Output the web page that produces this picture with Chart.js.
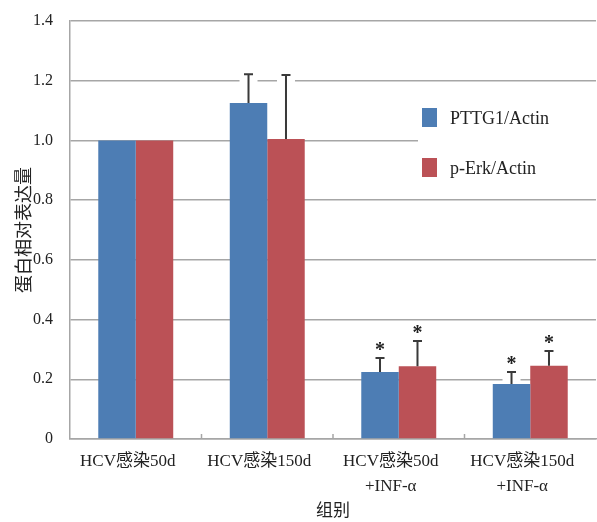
<!DOCTYPE html>
<html>
<head>
<meta charset="utf-8">
<script src="https://cdn.jsdelivr.net/npm/chart.js@4"></script>
<style>
  body { margin: 0; background: #fff; }
</style>
</head>
<body>
<canvas id="chart" width="597" height="522"></canvas>
<script>
// data
const groups = [['HCV感染50d'], ['HCV感染150d'], ['HCV感染50d', '+INF-α'], ['HCV感染150d', '+INF-α']];
const seriesNames = ['PTTG1/Actin', 'p-Erk/Actin'];
const pttg1 = [1.0, 1.125, 0.224, 0.184];
const perk = [1.0, 1.005, 0.244, 0.245];
const pttg1Err = [0, 0.097, 0.047, 0.040];
const perkErr = [0, 0.214, 0.084, 0.050];
const pttg1Star = [false, false, true, true];
const perkStar = [false, false, true, true];
const yTicks = [0, 0.2, 0.4, 0.6, 0.8, 1.0, 1.2, 1.4];

const serif = '"Liberation Serif", "Times New Roman", "Noto Sans CJK SC", serif';
const gray = '#a6a6a6';

// error bars, stars, little ticks and the legend box
const extras = {
  id: 'extras',
  afterDatasetsDraw(chart) {
    const ctx = chart.ctx;
    const x = chart.scales.x, y = chart.scales.y;
    const area = chart.chartArea;
    const errs = [pttg1Err, perkErr];
    const stars = [pttg1Star, perkStar];

    ctx.save();
    // tick marks between groups
    ctx.strokeStyle = gray;
    ctx.lineWidth = 1.5;
    for (let i = 1; i < groups.length; i++) {
      const px = (x.getPixelForValue(i - 1) + x.getPixelForValue(i)) / 2;
      ctx.beginPath();
      ctx.moveTo(px, area.bottom);
      ctx.lineTo(px, area.bottom - 5);
      ctx.stroke();
    }

    chart.data.datasets.forEach((ds, d) => {
      const meta = chart.getDatasetMeta(d);
      meta.data.forEach((bar, i) => {
        const err = errs[d][i];
        const top = y.getPixelForValue(ds.data[i] + err);
        if (err > 0) {
          const base = y.getPixelForValue(ds.data[i]);
          // white halo like the original
          ctx.fillStyle = '#fff';
          ctx.fillRect(bar.x - 9, top - 2, 18, base - top + 1);
          ctx.strokeStyle = '#3a3a3a';
          ctx.lineWidth = 2;
          ctx.beginPath();
          ctx.moveTo(bar.x, base);
          ctx.lineTo(bar.x, top);
          ctx.moveTo(bar.x - 4.5, top);
          ctx.lineTo(bar.x + 4.5, top);
          ctx.stroke();
        }
        if (stars[d][i]) {
          ctx.fillStyle = '#222';
          ctx.font = 'bold 20px ' + serif;
          ctx.textAlign = 'center';
          ctx.textBaseline = 'middle';
          ctx.fillText('*', bar.x, top - 7);
        }
      });
    });

    // legend
    ctx.fillStyle = '#fff';
    ctx.fillRect(418, 92, area.right - 418, 98);
    chart.data.datasets.forEach((ds, d) => {
      const ly = 117 + d * 50;
      ctx.fillStyle = ds.backgroundColor;
      ctx.fillRect(422, ly - 9, 15, 19);
      ctx.fillStyle = '#222';
      ctx.font = '18px ' + serif;
      ctx.textAlign = 'left';
      ctx.textBaseline = 'middle';
      ctx.fillText(ds.label, 450, ly + 2);
    });
    ctx.restore();
  }
};

new Chart(document.getElementById('chart'), {
  type: 'bar',
  data: {
    labels: groups,
    datasets: [
      { label: seriesNames[0], data: pttg1, backgroundColor: '#4d7db4' },
      { label: seriesNames[1], data: perk, backgroundColor: '#bb5156' }
    ]
  },
  options: {
    responsive: false,
    animation: false,
    layout: { padding: { left: 0, right: 1, top: 21, bottom: 0 } },
    datasets: { bar: { categoryPercentage: 0.57, barPercentage: 1.0, borderWidth: 0 } },
    plugins: { legend: { display: false }, tooltip: { enabled: false } },
    scales: {
      x: {
        grid: { display: false, drawTicks: false },
        border: { color: gray, width: 1.5 },
        ticks: { color: '#222', padding: 10, labelOffset: -8, font: { family: serif, size: 17, lineHeight: '25px' }, maxRotation: 0 },
        title: { display: true, text: '组别', color: '#222', font: { family: serif, size: 17 }, padding: { top: 0, bottom: 0 } },
        afterFit(s) { s.height = 83; }
      },
      y: {
        min: 0,
        max: 1.4,
        afterBuildTicks(s) { s.ticks = yTicks.map(v => ({ value: v })); },
        grid: { color: gray, lineWidth: 1.5, drawTicks: false },
        border: { color: gray, width: 1.5 },
        ticks: {
          color: '#222', padding: 17,
          font: { family: serif, size: 16 },
          callback: v => v === 0 ? '0' : v.toFixed(1)
        },
        title: { display: true, text: '蛋白相对表达量', color: '#222', font: { family: serif, size: 18 }, padding: { top: 14, bottom: 0 } },
        afterFit(s) { s.width = 70; s.paddingTop = 0; s.paddingBottom = 0; }
      }
    }
  },
  plugins: [extras]
});
</script>
</body>
</html>
